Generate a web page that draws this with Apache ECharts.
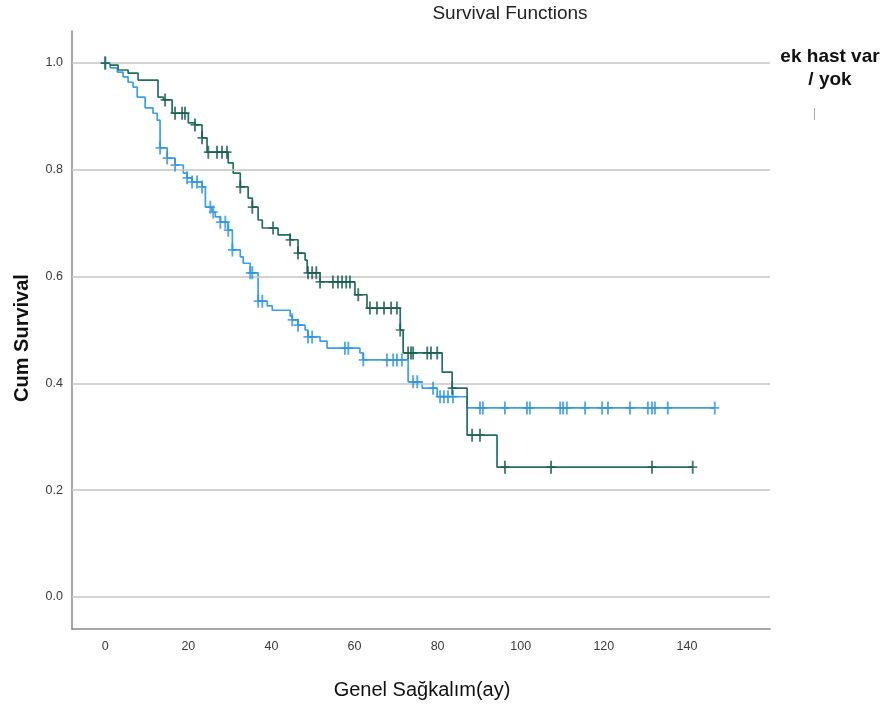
<!DOCTYPE html>
<html>
<head>
<meta charset="utf-8">
<script src="https://cdn.jsdelivr.net/npm/echarts@6/dist/echarts.min.js"></script>
<style>html,body{margin:0;padding:0;background:#fff}#c{width:885px;height:711px}</style>
</head>
<body>
<div id="c"></div>
<script>
// ---- Data ----
const xTicks = [0, 20, 40, 60, 80, 100, 120, 140];
const yTicks = [0, 0.2, 0.4, 0.6, 0.8, 1.0];

// Group 1 (dark green) step function
const greenTimes = [0, 1.2, 3.1, 5.5, 7.9, 12.7, 14.0, 16.1, 20.0, 21.6, 23.3, 24.5, 29.6, 30.8, 32.5, 34.4, 35.4, 36.8, 37.8, 41.6, 44.5, 46.4, 48.1, 48.6, 51.7, 60.1, 63.0, 71.0, 71.7, 81.1, 83.5, 87.1, 94.3];
const greenSurv  = [1.0, 0.996, 0.987, 0.981, 0.968, 0.936, 0.931, 0.906, 0.888, 0.884, 0.860, 0.833, 0.813, 0.794, 0.768, 0.747, 0.730, 0.706, 0.691, 0.678, 0.669, 0.644, 0.631, 0.607, 0.590, 0.566, 0.541, 0.500, 0.457, 0.421, 0.391, 0.303, 0.243];
const greenEnd = 141.4;
const greenCensor = [0, 14.4, 16.8, 18.5, 19.2, 21.6, 23.3, 24.8, 26.9, 28.1, 29.3, 32.5, 35.4, 40.4, 44.5, 46.4, 48.8, 49.8, 50.8, 51.7, 54.8, 56.0, 57.0, 58.0, 58.9, 60.9, 63.7, 65.4, 67.1, 68.8, 70.2, 71.0, 72.9, 73.6, 74.1, 77.5, 78.4, 79.9, 83.5, 88.3, 90.2, 96.2, 107.3, 131.6, 141.4];

// Group 2 (light blue) step function
const blueTimes = [0, 1.2, 2.9, 4.3, 5.5, 6.7, 7.7, 9.6, 11.5, 12.5, 13.2, 14.9, 16.8, 18.8, 19.7, 20.9, 23.3, 24.1, 25.7, 26.5, 27.7, 29.6, 30.6, 32.5, 33.2, 34.9, 36.8, 39.0, 40.2, 44.5, 45.0, 46.4, 48.1, 48.8, 51.7, 53.4, 61.3, 62.1, 72.9, 76.3, 79.9, 87.1];
const blueSurv  = [1.0, 0.991, 0.983, 0.974, 0.964, 0.955, 0.936, 0.916, 0.906, 0.893, 0.841, 0.822, 0.809, 0.794, 0.785, 0.777, 0.768, 0.730, 0.721, 0.712, 0.702, 0.687, 0.650, 0.637, 0.625, 0.607, 0.554, 0.545, 0.537, 0.526, 0.519, 0.509, 0.500, 0.487, 0.479, 0.466, 0.457, 0.444, 0.403, 0.391, 0.375, 0.354];
const blueEnd = 146.7;
const blueCensor = [0, 13.2, 14.9, 16.8, 19.7, 20.9, 22.1, 23.3, 25.3, 26.0, 27.7, 28.9, 29.6, 30.6, 34.9, 35.4, 36.8, 37.8, 45.0, 46.4, 48.8, 49.8, 57.7, 58.5, 62.1, 67.8, 69.3, 70.2, 71.4, 74.1, 75.1, 78.9, 80.6, 81.5, 82.5, 83.7, 90.2, 90.9, 96.2, 101.5, 102.2, 109.5, 110.2, 111.1, 115.5, 119.6, 121.0, 126.3, 130.6, 131.6, 132.3, 135.4, 146.7];

// ---- Build series from the arrays ----
function stepData(times, surv, end) {
  const d = times.map((t, i) => [t, surv[i]]);
  d.push([end, surv[surv.length - 1]]);
  return d;
}
function survAt(times, surv, t) {
  let s = surv[0];
  for (let i = 0; i < times.length; i++) { if (times[i] <= t + 1e-9) s = surv[i]; }
  return s;
}
function censorData(ct, times, surv) { return ct.map(t => [t, survAt(times, surv, t)]); }

const GREEN = '#236f61';
const BLUE = '#3d9fe8';
const plus = 'path://M-0.85,-6 L0.85,-6 L0.85,-0.8 L4,-0.8 L4,0.8 L0.85,0.8 L0.85,6 L-0.85,6 L-0.85,0.8 L-4,0.8 L-4,-0.8 L-0.85,-0.8 Z';
const FONT = 'Liberation Sans';

const chart = echarts.init(document.getElementById('c'), null, {renderer: 'canvas'});
chart.setOption({
  animation: false,
  backgroundColor: '#ffffff',
  textStyle: {fontFamily: FONT},
  grid: {left: 72, right: 115, top: 31, bottom: 82, containLabel: false},
  xAxis: {
    type: 'value', min: -8, max: 160,
    axisLine: {show: true, onZero: false, lineStyle: {color: '#8a8a8a', width: 1.5}},
    axisTick: {show: false, customValues: xTicks},
    splitLine: {show: false},
    axisLabel: {customValues: xTicks, color: '#3a3a3a', fontSize: 12.5, margin: 11, fontFamily: FONT}
  },
  yAxis: {
    type: 'value', min: -0.06, max: 1.06,
    axisLine: {show: true, onZero: false, lineStyle: {color: '#8a8a8a', width: 1.5}},
    axisTick: {show: false, customValues: yTicks},
    splitLine: {show: false},
    axisLabel: {customValues: yTicks, color: '#3a3a3a', fontSize: 12.5, margin: 9, fontFamily: FONT,
      formatter: v => v.toFixed(1)}
  },
  series: [
    {
      type: 'line', data: [], z: 1, silent: true,
      markLine: {
        silent: true, symbol: 'none', animation: false,
        label: {show: false},
        lineStyle: {color: '#c4c4c4', width: 1.6, type: 'solid'},
        data: yTicks.map(v => ({yAxis: v}))
      }
    },
    {type: 'line', step: 'end', data: stepData(blueTimes, blueSurv, blueEnd), showSymbol: false, z: 3,
      lineStyle: {color: BLUE, width: 1.7}, itemStyle: {color: BLUE}},
    {type: 'line', step: 'end', data: stepData(greenTimes, greenSurv, greenEnd), showSymbol: false, z: 4,
      lineStyle: {color: GREEN, width: 1.7}, itemStyle: {color: GREEN}},
    {type: 'scatter', data: censorData(blueCensor, blueTimes, blueSurv), symbol: plus, symbolSize: [9, 13], z: 5,
      itemStyle: {color: '#2f93e0'}},
    {type: 'scatter', data: censorData(greenCensor, greenTimes, greenSurv), symbol: plus, symbolSize: [9, 13], z: 6,
      itemStyle: {color: '#1b5c50'}}
  ],
  graphic: [
    {type: 'text', x: 510, y: 14, style: {text: 'Survival Functions', font: '19px "Liberation Sans"', fill: '#222', align: 'center', verticalAlign: 'middle'}},
    {type: 'text', x: 22, y: 338, rotation: Math.PI / 2,
      style: {text: 'Cum Survival', font: 'bold 20px "Liberation Sans"', fill: '#111', align: 'center', verticalAlign: 'middle'}},
    {type: 'text', x: 422, y: 690,
      style: {text: 'Genel Sağkalım(ay)', font: '20px "Liberation Sans"', fill: '#111', align: 'center', verticalAlign: 'middle'}},
    {type: 'text', x: 830, y: 57,
      style: {text: 'ek hast var', font: 'bold 19px "Liberation Sans"', fill: '#111', align: 'center', verticalAlign: 'middle'}},
    {type: 'text', x: 830, y: 80,
      style: {text: '/ yok', font: 'bold 19px "Liberation Sans"', fill: '#111', align: 'center', verticalAlign: 'middle'}},
    {type: 'line', shape: {x1: 814.5, y1: 108, x2: 814.5, y2: 120}, style: {stroke: '#aaa', lineWidth: 1}}
  ]
});
</script>
</body>
</html>
